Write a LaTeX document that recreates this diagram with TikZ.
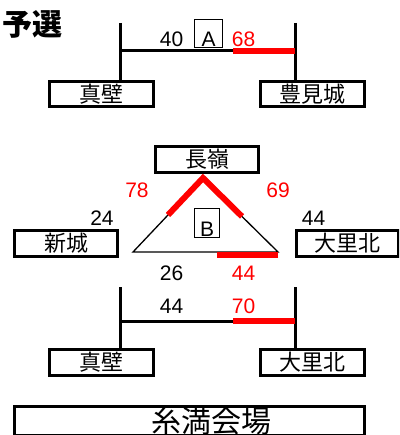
\documentclass[tikz,border=0pt]{standalone}
\usepackage{fontspec}
\setmainfont{Liberation Sans}
\newfontfamily\jp{Noto Sans CJK JP}
\usetikzlibrary{calc}
\definecolor{hired}{RGB}{255,0,0}
\begin{document}
\begin{tikzpicture}[x=1pt,y=-1pt,
  namebox/.style={draw, line width=3pt, inner sep=0pt, font=\jp\fontsize{22}{22}\selectfont},
  letterbox/.style={draw, line width=1.2pt, inner sep=0pt, text height=27pt, text depth=0pt, font=\fontsize{21}{21}\selectfont},
  bk/.style={line width=3pt},
  thinline/.style={line width=1.3pt},
  hit/.style={line width=6pt, draw=hired},
  num/.style={anchor=base, inner sep=0pt, font=\fontsize{21}{21}\selectfont},
  rnum/.style={num, text=hired}]
\clip (0,0) rectangle (399,435);
\useasboundingbox (0,0) rectangle (399,435);
% title
\node[font=\jp\bfseries\fontsize{30}{30}\selectfont, inner sep=0pt] (title) at (32.5,24) {予選};
% top bracket
\node[namebox, minimum width=104pt, minimum height=25pt] (ma) at (101.5,94) {真壁};
\node[namebox, minimum width=104pt, minimum height=25pt] (tm) at (312.5,94) {豊見城};
\coordinate (tl) at (120,23);
\coordinate (tr) at (295,23);
\coordinate (hl) at (120,51);
\coordinate (hr) at (295,51);
\coordinate (hm) at (233,51);
\draw[bk] (tl) -- (tl |- ma.north);
\draw[bk] (tr) -- (tr |- tm.north);
\draw[bk] (hl) -- (hr);
\draw[hit] (hm) -- (hr);
\node[num] (n40) at (171.5,47) {40};
\node[rnum] (n68) at (243.5,47) {68};
\node[letterbox, minimum width=28pt, minimum height=28pt] (boxA) at (208.5,33.5) {A};
% block B
\node[namebox, minimum width=103pt, minimum height=26pt] (ng) at (207,159.5) {長嶺};
\node[namebox, minimum width=103pt, minimum height=26pt] (ar) at (66,243.5) {新城};
\node[namebox, minimum width=102pt, minimum height=26pt] (oz) at (347.5,243.5) {大里北};
\coordinate (ap) at (203,178);
\coordinate (tL) at (133,252);
\coordinate (tR) at (278,252);
\draw[thinline] (ap) -- (tL) -- (tR) -- cycle;
\draw[hit] ($(ap)!0.5!(tL)$) -- (ap) -- ($(ap)!0.52!(tR)$);
\draw[hit] ($(tR)+(0,2.5)$) -- ($(tR)+(-61,2.5)$);
\node[letterbox, minimum width=25pt, minimum height=29pt] (boxB) at (207,223) {B};
\node[rnum] (n78) at (137,197) {78};
\node[rnum] (n69) at (278,197) {69};
\node[num] (n24) at (102,225) {24};
\node[num] (n44a) at (313.5,225) {44};
\node[num] (n26) at (171.5,280.5) {26};
\node[rnum] (n44b) at (243.5,280.5) {44};
% bottom bracket
\node[namebox, minimum width=104pt, minimum height=26pt] (mb) at (101.5,362.5) {真壁};
\node[namebox, minimum width=104pt, minimum height=26pt] (ob) at (312.5,362.5) {大里北};
\coordinate (bl) at (120,287);
\coordinate (br) at (295,287);
\coordinate (gl) at (120,321);
\coordinate (gr) at (295,321);
\coordinate (gm) at (233,321);
\draw[bk] (bl) -- (bl |- mb.north);
\draw[bk] (br) -- (br |- ob.north);
\draw[bk] (gl) -- (gr);
\draw[hit] (gm) -- (gr);
\node[num] (n44c) at (171.5,313) {44};
\node[rnum] (n70) at (243.5,313) {70};
% venue
\node[namebox, minimum width=350pt, minimum height=29pt, font=\jp\fontsize{30}{30}\selectfont] (venue) at (189.5,421) {\hspace*{44pt}糸満会場};
\end{tikzpicture}
\end{document}
